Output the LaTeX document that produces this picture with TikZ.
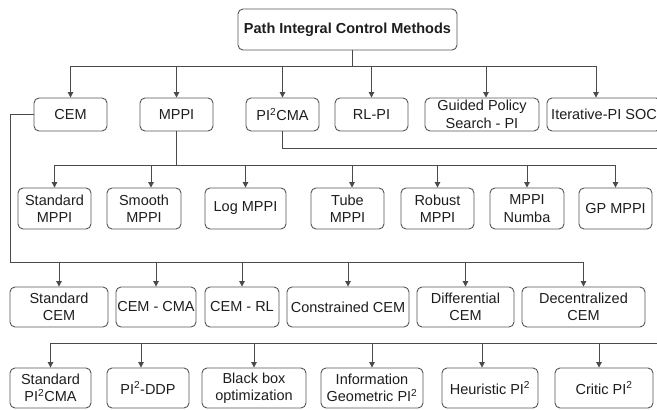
\documentclass[tikz,border=0pt]{standalone}
\usepackage{fontspec}
\setmainfont{Liberation Sans}
\usetikzlibrary{arrows.meta}
\definecolor{lc}{HTML}{4A4A4A}
\definecolor{bc}{HTML}{555555}
\definecolor{tc}{HTML}{1E1E1E}
\begin{document}
\begin{tikzpicture}[x=1pt,y=-1pt,
  box/.style={draw=bc, line width=0.9pt, rounded corners=5pt, align=center,
    inner sep=0pt, text=tc, font=\fontsize{14.5}{17.5}\selectfont},
  conn/.style={draw=lc, line width=1pt},
  arr/.style={conn, -{Triangle[length=5.5pt,width=5.5pt]}}]
\useasboundingbox (0,0) rectangle (657,410);
\fill[white] (0,0) rectangle (657,410);

% root
\node[box, minimum width=219pt, minimum height=41pt,
  font=\fontsize{14.5}{17.5}\selectfont\bfseries] (root) at (347.5,29.5) {Path Integral Control Methods};

% level 1
\node[box, minimum width=73pt, minimum height=33pt] (cem) at (70.5,114.5) {CEM};
\node[box, minimum width=73pt, minimum height=33pt] (mppi) at (176.5,114.5) {MPPI};
\node[box, minimum width=73pt, minimum height=33pt] (picma) at (282.5,114.5) {PI\textsuperscript{2}CMA};
\node[box, minimum width=73pt, minimum height=33pt] (rlpi) at (371.5,114.5) {RL-PI};
\node[box, minimum width=114pt, minimum height=33pt] (gps) at (482,114.5) {Guided Policy\\Search - PI};
\node[box, minimum width=114pt, minimum height=33pt] (iter) at (604,114.5) {Iterative-PI SOC};

% level 2 (MPPI)
\node[box, minimum width=73pt, minimum height=41pt] (smppi) at (54.5,208.5) {Standard\\MPPI};
\node[box, minimum width=74pt, minimum height=41pt] (smooth) at (144,208.5) {Smooth\\MPPI};
\node[box, minimum width=81pt, minimum height=41pt] (logm) at (245.5,208.5) {Log MPPI};
\node[box, minimum width=73pt, minimum height=41pt] (tube) at (347.5,208.5) {Tube\\MPPI};
\node[box, minimum width=73pt, minimum height=41pt] (robust) at (437.5,208.5) {Robust\\MPPI};
\node[box, minimum width=74pt, minimum height=41pt] (numba) at (527,208.5) {MPPI\\Numba};
\node[box, minimum width=73pt, minimum height=41pt] (gp) at (615.5,208.5) {GP MPPI};

% level 3 (CEM)
\node[box, minimum width=98pt, minimum height=40pt] (scem) at (59,307) {Standard\\CEM};
\node[box, minimum width=80pt, minimum height=40pt] (cemcma) at (156,307) {CEM - CMA};
\node[box, minimum width=74pt, minimum height=40pt] (cemrl) at (242,307) {CEM - RL};
\node[box, minimum width=122pt, minimum height=40pt] (ccem) at (348,307) {Constrained CEM};
\node[box, minimum width=97pt, minimum height=40pt] (dcem) at (465.5,307) {Differential\\CEM};
\node[box, minimum width=123pt, minimum height=40pt] (decem) at (583.5,307) {Decentralized\\CEM};

% level 4 (PI2CMA)
\node[box, minimum width=81pt, minimum height=40pt] (spicma) at (50.5,388) {Standard\\PI\textsuperscript{2}CMA};
\node[box, minimum width=82pt, minimum height=40pt] (ddp) at (148,388) {PI\textsuperscript{2}-DDP};
\node[box, minimum width=104pt, minimum height=40pt] (bbo) at (254,388) {Black box\\optimization};
\node[box, minimum width=102pt, minimum height=40pt] (info) at (372,388) {Information\\Geometric PI\textsuperscript{2}};
\node[box, minimum width=96pt, minimum height=40pt] (heur) at (490,388) {Heuristic PI\textsuperscript{2}};
\node[box, minimum width=98pt, minimum height=40pt] (critic) at (604,388) {Critic PI\textsuperscript{2}};

% connectors: root -> level 1
\coordinate (b1) at (352,66);
\draw[conn] ([xshift=4.5pt]root.south) -- ([xshift=4.5pt]root.south |- b1);
\draw[conn] (cem.north |- b1) -- ([xshift=-8pt]iter.north |- b1);
\foreach \n in {cem,mppi,picma,rlpi}
  \draw[arr] (\n.north |- b1) -- (\n.north);
\draw[arr] ([xshift=4pt]gps.north |- b1) -- ([xshift=4pt]gps.north);
\draw[arr] ([xshift=-8pt]iter.north |- b1) -- ([xshift=-8pt]iter.north);

% MPPI -> level 2
\coordinate (b2) at (0,165);
\draw[conn] (mppi.south) -- (mppi.south |- b2);
\draw[conn] (smppi.north |- b2) -- (gp.north |- b2);
\foreach \n in {smppi,logm,robust,numba,gp}
  \draw[arr] (\n.north |- b2) -- (\n.north);
\draw[arr] ([xshift=7pt]smooth.north |- b2) -- ([xshift=7pt]smooth.north);
\draw[arr] ([xshift=4.5pt]tube.north |- b2) -- ([xshift=4.5pt]tube.north);

% CEM -> level 3
\coordinate (b3) at (10,262);
\draw[conn] (cem.west) -| (b3) -- (decem.north |- b3);
\foreach \n in {scem,cemcma,cemrl,ccem,dcem,decem}
  \draw[arr] (\n.north |- b3) -- (\n.north);

% PI2CMA -> level 4
\coordinate (b4) at (0,343);
\coordinate (rr) at (680,148);
\draw[conn] (picma.south) |- (rr) |- (spicma.north |- b4);
\foreach \n in {spicma,bbo,info}
  \draw[arr] (\n.north |- b4) -- (\n.north);
\draw[arr] ([xshift=-7pt]ddp.north |- b4) -- ([xshift=-7pt]ddp.north);
\draw[arr] ([xshift=-8pt]heur.north |- b4) -- ([xshift=-8pt]heur.north);
\draw[arr] ([xshift=-5pt]critic.north |- b4) -- ([xshift=-5pt]critic.north);
\end{tikzpicture}
\end{document}
